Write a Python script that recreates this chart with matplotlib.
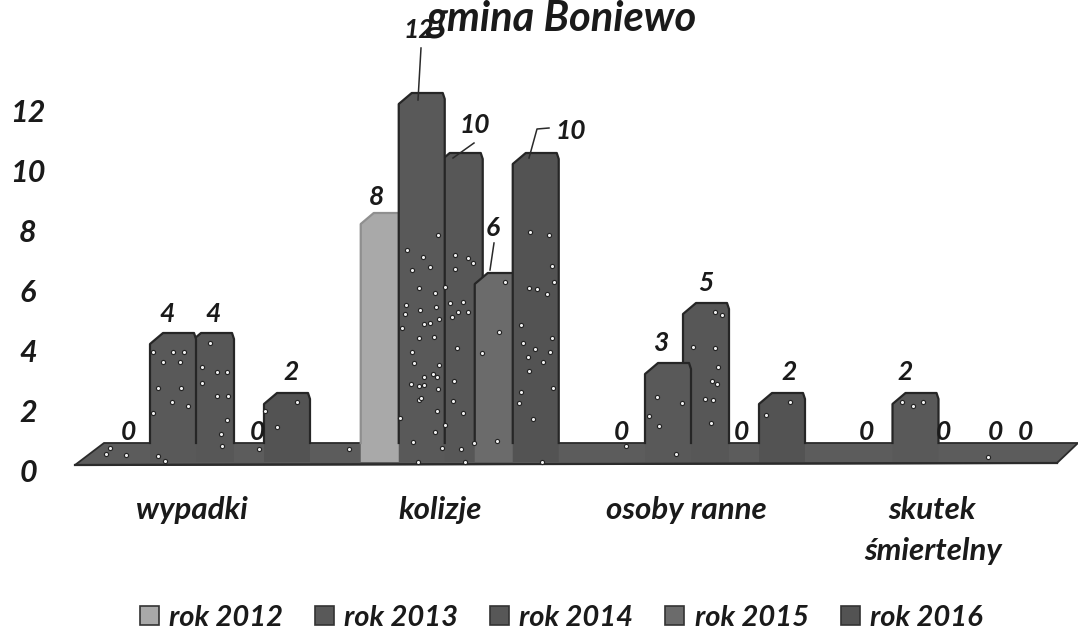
import matplotlib
matplotlib.use("Agg")
import matplotlib.pyplot as plt
from matplotlib.patches import Patch, Polygon

plt.rcParams['font.family'] = ['Lato', 'DejaVu Sans']

title = "gmina Boniewo"
categories = ["wypadki", "kolizje", "osoby ranne", "skutek", "śmiertelny"]
series_names = ["rok 2012", "rok 2013", "rok 2014", "rok 2015", "rok 2016"]
rok_2012 = [0, 8, 0, 0]
rok_2013 = [4, 12, 3, 2]
rok_2014 = [4, 10, 5, 0]
rok_2015 = [0, 6, 0, 0]
rok_2016 = [2, 10, 2, 0]
y_ticks = [0, 2, 4, 6, 8, 10, 12]

series = [rok_2012, rok_2013, rok_2014, rok_2015, rok_2016]
colors = ["#a9a9a9", "#595959", "#575757", "#6b6b6b", "#535353"]
draw_order = [0, 2, 1, 3, 4]

# pixel layout of the picture
W, H = 1078, 630
GROUP_PX = 247.5
BAR_STEP_PX = 38
BAR_W_PX = 46
X0_PX = 112      # left edge of first bar
Y0_PX = 464
UNIT_PX = 30
group_pos = [0, 1.005, 2, 3]
cat_px = [(192, 510), (440, 510), (686, 510), (932, 510), (933, 551)]

# label shifts in pixels, per series then per group
label_dx = [[16, 16, 14, 12], [17, 20, 16, 13], [25, 38, 23, 13], [31, 18, 20, 27], [27, 58, 30, 19]]
label_dy = [[32, 27, 32, 32], [30, 74, 31, 32], [30, 39, 31, 32], [32, 56, 32, 32], [32, 33, 32, 32]]

# scan specks (crop x, crop y at 3x)
specks_kolizje = [(265, 45), (315, 105), (172, 90), (220, 112), (240, 140), (185, 150), (370, 128), (355, 115),
                  (315, 148), (465, 185), (208, 205), (285, 200), (255, 220), (168, 255), (165, 283), (210, 270),
                  (258, 262), (300, 250), (340, 245), (355, 275), (325, 275), (305, 290), (268, 298), (240, 310),
                  (222, 312), (157, 325), (253, 350), (208, 355), (320, 385), (186, 397), (192, 430), (268, 435),
                  (248, 462), (262, 470), (222, 470), (182, 493), (208, 497), (222, 495), (312, 484), (265, 508),
                  (208, 540), (212, 535), (310, 542), (340, 578), (262, 572), (150, 595), (285, 614), (255, 636),
                  (190, 665), (275, 685), (332, 688), (203, 725), (345, 725), (440, 662), (372, 670), (540, 36),
                  (598, 45), (607, 138), (612, 187), (592, 222), (560, 208), (538, 205), (512, 315), (605, 355),
                  (520, 370), (555, 388), (533, 412), (580, 425), (600, 395), (536, 452), (512, 515), (508, 548),
                  (610, 505), (548, 598), (448, 335), (395, 398), (575, 725)]
specks_left = [(150, 385), (138, 403), (197, 405), (278, 95), (338, 95), (372, 97), (308, 126), (360, 125),
               (425, 140), (500, 157), (470, 155), (362, 205), (425, 190), (295, 203), (503, 228), (472, 227),
               (385, 258), (337, 247), (278, 278), (483, 342), (500, 300), (487, 378), (295, 407), (314, 422),
               (710, 247), (650, 320), (615, 272), (597, 387), (868, 388), (450, 70)]
specks_right = [(345, 65), (365, 75), (280, 170), (345, 173), (355, 232), (335, 272), (350, 283), (170, 322),
                (245, 338), (315, 328), (340, 330), (148, 378), (178, 407), (332, 398), (228, 493), (570, 335),
                (497, 375), (905, 335), (970, 335), (940, 348), (1165, 500), (78, 467)]

TXT = "#1a1a1a"
fig = plt.figure(figsize=(W / 100, H / 100), dpi=100)
ax = fig.add_axes([0, 0, 1, 1])
ax.set_xlim(-X0_PX / GROUP_PX, (W - X0_PX) / GROUP_PX)
ax.set_ylim((Y0_PX - H) / UNIT_PX, Y0_PX / UNIT_PX)
ax.axis('off')


def px(x, y):
    return (x - X0_PX) / GROUP_PX, (Y0_PX - y) / UNIT_PX


# floor
floor = Polygon([px(75, 465), px(104, 443), px(1078, 443), px(1057, 463)],
                closed=True, fc="#5c5c5c", ec="#2b2b2b", lw=1.3, zorder=1)
ax.add_patch(floor)

bar_w = BAR_W_PX / GROUP_PX
chamfer_x = 13 / GROUP_PX
chamfer_y = 11 / UNIT_PX
step = BAR_STEP_PX / GROUP_PX
base = px(0, 462)[1]
floor_top = px(0, 443)[1]

z = 2
for s in draw_order:
    for g, v in enumerate(series[s]):
        if v == 0:
            continue
        left = group_pos[g] + s * step
        top = [(left, floor_top), (left, v), (left + chamfer_x, v + chamfer_y),
               (left + bar_w - 0.008, v + chamfer_y), (left + bar_w, v + chamfer_y - 0.2),
               (left + bar_w, floor_top)]
        fill = [(left, base)] + top[1:-1] + [(left + bar_w, base)]
        ax.add_patch(Polygon(fill, closed=True, fc=colors[s], ec='none', zorder=z))
        edge = "#8f8f8f" if s == 0 else "#262626"
        ax.plot(*zip(*top), color=edge, lw=1.6, solid_joinstyle='round', zorder=z)
        z += 1

# front edge of floor over the bars
ax.plot(*zip(px(75, 465), px(1057, 463)), color="#2b2b2b", lw=1.6, zorder=z)

# scan specks
speck_px = [(350 + a / 3, 220 + b / 3) for a, b in specks_kolizje]
speck_px += [(60 + a / 3, 320 + b / 3) for a, b in specks_left]
speck_px += [(600 + a / 3, 290 + b / 3) for a, b in specks_right]
sx, sy = zip(*[px(a, b) for a, b in speck_px])
ax.scatter(sx, sy, s=9, fc="#f2f2f2", ec="#222222", lw=0.8, zorder=z)

# data labels
for s in range(5):
    for g, v in enumerate(series[s]):
        left = group_pos[g] + s * step
        ax.annotate(str(v), xy=(left, v), xytext=(label_dx[s][g], label_dy[s][g]),
                    textcoords='offset pixels', ha='center', va='center',
                    fontsize=19, fontweight='bold', fontstyle='italic',
                    color=TXT, zorder=z + 2)

# leader lines on kolizje
leaders = [[(418, 100), (421, 48)], [(453, 158), (474, 143)],
           [(490, 270), (494, 243)], [(529, 158), (537, 129), (549, 128)]]
for line in leaders:
    ax.plot(*zip(*[px(a, b) for a, b in line]), color="#2a2a2a", lw=1.1, zorder=z + 1)

# value axis
for t in y_ticks:
    ax.text(*px(28, Y0_PX + 9 - t * UNIT_PX), str(t), ha='center', va='center',
            fontsize=22, fontweight='bold', fontstyle='italic', color=TXT)

# category labels
for name, pos in zip(categories, cat_px):
    ax.text(*px(*pos), name, ha='center', va='center',
            fontsize=22.5, fontweight='bold', fontstyle='italic', color=TXT)

ax.text(*px(561, 30), title, ha='center', va='baseline', fontsize=30,
        fontweight='bold', fontstyle='italic', color=TXT, zorder=z + 1)

handles = [Patch(fc=c, ec="#333333", lw=1.2) for c in colors]
fig.legend(handles, series_names, loc='center', bbox_to_anchor=(561 / W, 1 - 618 / H),
           ncol=5, frameon=False, handlelength=0.65, handleheight=0.65, handletextpad=0.35,
           columnspacing=1.1, borderpad=0, borderaxespad=0,
           prop={'size': 21, 'weight': 'bold', 'style': 'italic'}, labelcolor=TXT)

fig.savefig("out.png", dpi=100)
